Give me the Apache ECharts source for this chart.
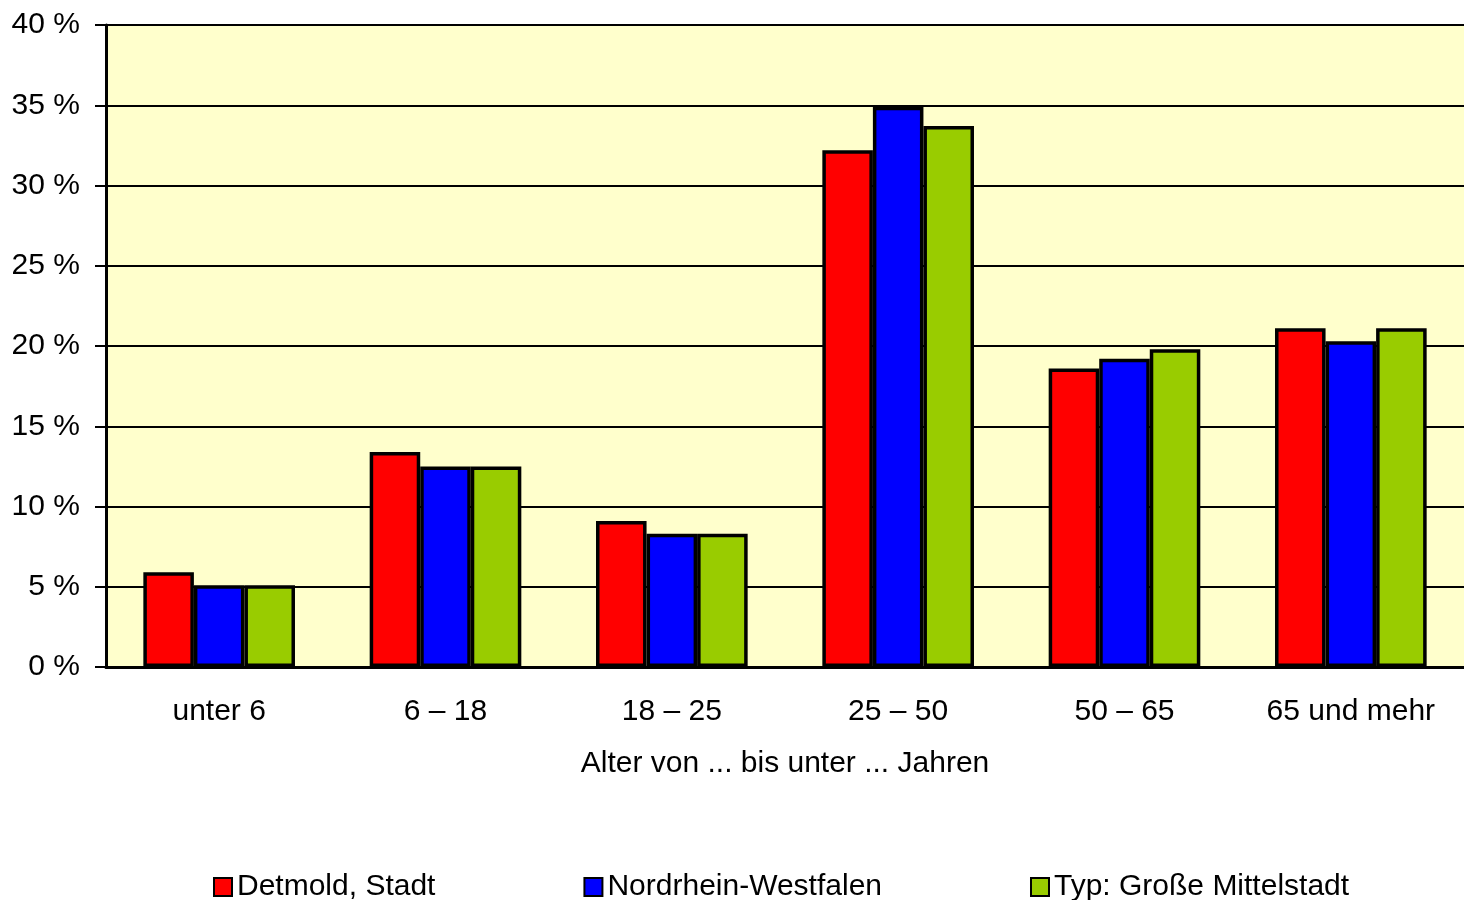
<!DOCTYPE html>
<html>
<head>
<meta charset="utf-8">
<script src="https://cdn.jsdelivr.net/npm/echarts@6/dist/echarts.min.js"></script>
<style>
html,body{margin:0;padding:0;background:#fff;}
#c{width:1464px;height:900px;}
</style>
</head>
<body>
<div id="c"></div>
<script>
const categories = ['unter 6', '6 – 18', '18 – 25', '25 – 50', '50 – 65', '65 und mehr'];
const detmold = [5.9, 13.4, 9.1, 32.2, 18.6, 21.1];
const nrw = [5.1, 12.5, 8.3, 34.9, 19.2, 20.3];
const mittelstadt = [5.1, 12.5, 8.3, 33.7, 19.8, 21.1];
const seriesNames = ['Detmold, Stadt', 'Nordrhein-Westfalen', 'Typ: Große Mittelstadt'];
const colors = ['#FF0000', '#0000FF', '#99CC00'];
const xAxisTitle = 'Alter von ... bis unter ... Jahren';

const FONT = '"Liberation Sans", Arial, sans-serif';
const chart = echarts.init(document.getElementById('c'), null, {renderer: 'canvas'});
const values = [detmold, nrw, mittelstadt];

chart.setOption({
  animation: false,
  backgroundColor: '#ffffff',
  textStyle: {fontFamily: FONT, color: '#000'},
  grid: {
    left: 106, right: 0, top: 25, bottom: 233,
    show: true, backgroundColor: '#FFFFCC', borderWidth: 0
  },
  legend: {
    data: seriesNames,
    icon: 'rect',
    left: 208, top: 867,
    itemWidth: 18, itemHeight: 18, itemGap: 148,
    textStyle: {fontFamily: FONT, fontSize: 30, color: '#000', lineHeight: 30}
  },
  xAxis: {
    type: 'category',
    data: categories,
    axisLine: {show: true, lineStyle: {color: '#000', width: 3}},
    axisTick: {show: false},
    axisLabel: {fontFamily: FONT, fontSize: 30, color: '#000', margin: 30},
    name: xAxisTitle,
    nameLocation: 'middle',
    nameGap: 82,
    nameTextStyle: {fontFamily: FONT, fontSize: 30, color: '#000'}
  },
  yAxis: {
    type: 'value',
    min: 0, max: 40, interval: 5,
    axisLine: {show: true, lineStyle: {color: '#000', width: 3}},
    axisTick: {show: true, length: 11, lineStyle: {color: '#000', width: 2}},
    splitLine: {show: true, lineStyle: {color: '#000', width: 2}},
    axisLabel: {fontFamily: FONT, fontSize: 30, color: '#000', margin: 26,
      formatter: v => v + ' %'}
  },
  series: seriesNames.map((n, i) => ({
    name: n,
    type: 'bar',
    data: values[i],
    barGap: '0%',
    barCategoryGap: '33%',
    itemStyle: {color: colors[i], borderColor: '#000', borderWidth: 3.5}
  }))
});
</script>
</body>
</html>
